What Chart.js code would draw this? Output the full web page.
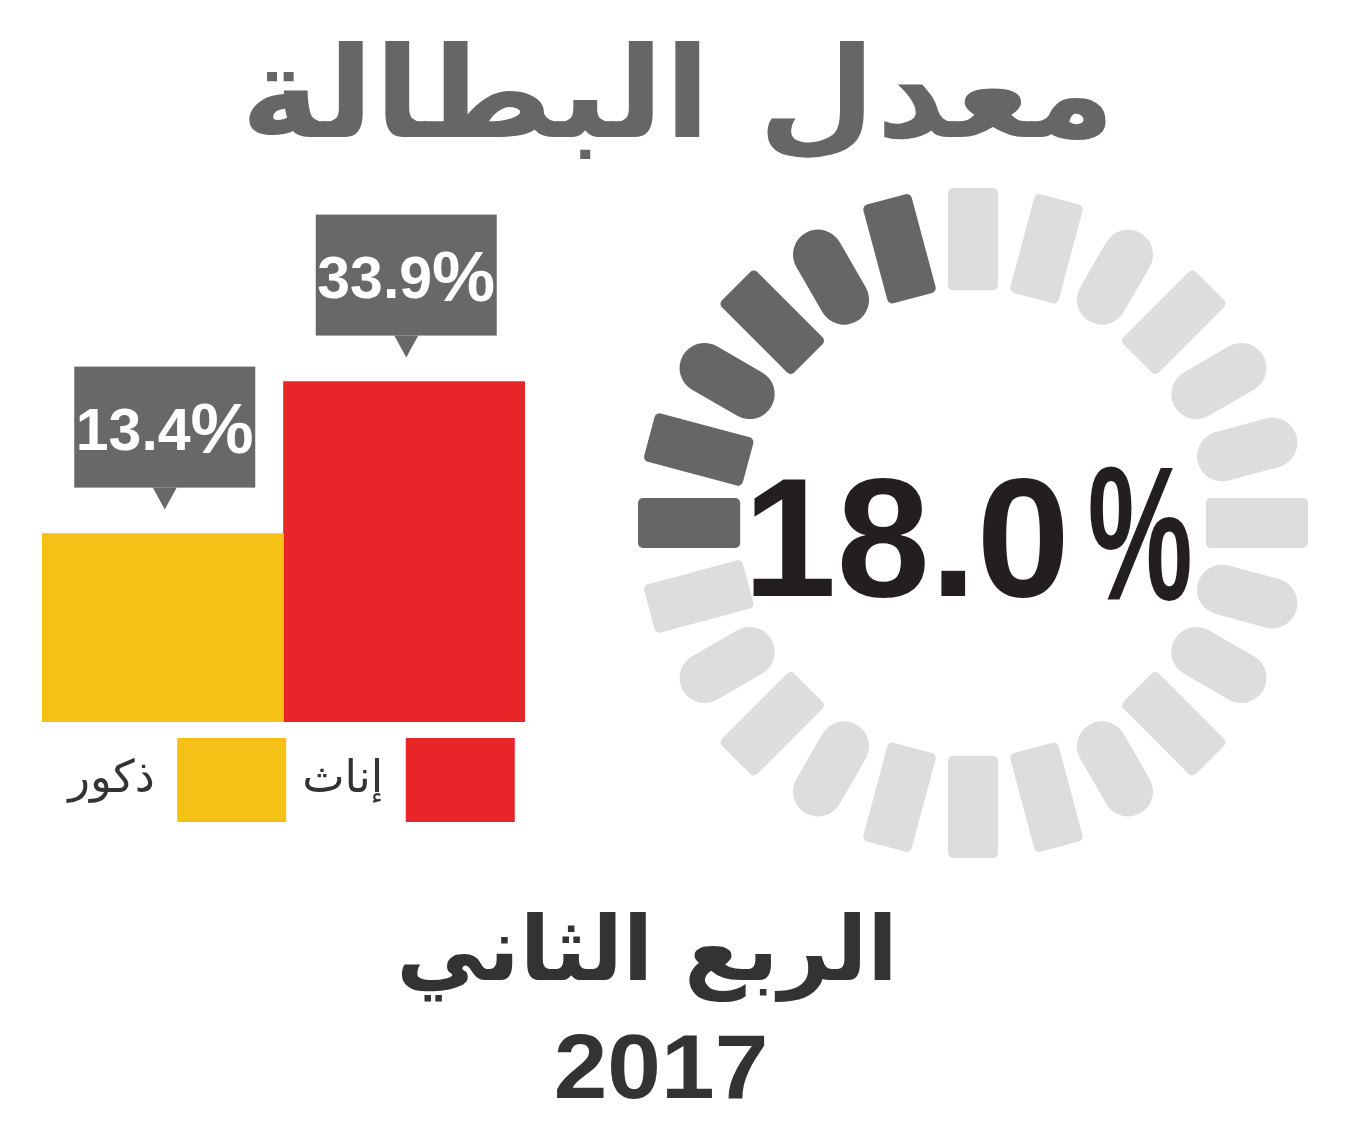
<!DOCTYPE html>
<html lang="ar">
<head>
<meta charset="utf-8">
<title>معدل البطالة</title>
<script src="https://cdn.jsdelivr.net/npm/chart.js@4.4.1/dist/chart.umd.min.js"></script>
<style>
  html, body { margin: 0; padding: 0; background: #fff; }
  body { width: 1356px; height: 1123px; position: relative; overflow: hidden; }
  .txt { position: absolute; left: 0; width: 1356px; text-align: center; line-height: 1; white-space: nowrap; }
  #title { top: 16px; left: 0; font: bold 132px "DejaVu Sans", sans-serif; color: #666; direction: rtl; transform: scale(1.03, 0.96); }
  #quarter { top: 897px; left: -31px; font: bold 89px "DejaVu Sans", sans-serif; color: #333; direction: rtl; }
  #year { top: 1015px; left: -17px; font: bold 91px "Liberation Sans", Arial, sans-serif; color: #333; transform: scaleX(1.06); }
  #bars { position: absolute; left: 0; top: 188px; }
  #ring { position: absolute; left: 638px; top: 188px; }
</style>
</head>
<body>
<div id="title" class="txt">معدل البطالة</div>
<canvas id="bars" width="560" height="644"></canvas>
<canvas id="ring" width="670" height="670"></canvas>
<div id="quarter" class="txt">الربع الثاني</div>
<div id="year" class="txt">2017</div>

<script>
// data
const categories = ['إناث', 'ذكور'];
const rates = [33.9, 13.4];
const totalRate = 18.0;
// ring segments, clockwise from 9 o'clock: 1 = filled
const ringFilled = [1, 1, 1, 1, 1, 1, 0, 0, 0, 0, 0, 0, 0, 0, 0, 0, 0, 0, 0, 0, 0, 0, 0, 0];

// styles
const barColors = ['#e8262a', '#f5c117'];
const ringColors = { on: '#666666', off: '#dddddd' };
const segmentShapes = ['rect', 'rect', 'pill', 'rect', 'pill', 'rect', 'rect', 'rect', 'pill', 'rect', 'pill', 'pill',
                       'rect', 'pill', 'pill', 'rect', 'pill', 'rect', 'rect', 'rect', 'pill', 'rect', 'pill', 'rect'];

function roundedRect(ctx, x, y, w, h, r) {
    ctx.beginPath();
    ctx.moveTo(x + r, y);
    ctx.lineTo(x + w - r, y);
    ctx.arcTo(x + w, y, x + w, y + r, r);
    ctx.lineTo(x + w, y + h - r);
    ctx.arcTo(x + w, y + h, x + w - r, y + h, r);
    ctx.lineTo(x + r, y + h);
    ctx.arcTo(x, y + h, x, y + h - r, r);
    ctx.lineTo(x, y + r);
    ctx.arcTo(x, y, x + r, y, r);
    ctx.closePath();
}

// grey value boxes above the bars
const calloutPlugin = {
    id: 'callouts',
    afterLayout(chart) {
        // legend sits a little right of the bars' centre
        chart.legend.left += 8;
        chart.legend.right += 8;
    },
    afterDatasetsDraw(chart) {
        const ctx = chart.ctx;
        chart.getDatasetMeta(0).data.forEach((bar, i) => {
            const cx = bar.x + 2;
            const bottom = bar.y - 46;
            const tip = bar.y - 24;
            const w = 181, h = 121;
            ctx.save();
            ctx.fillStyle = '#686868';
            ctx.fillRect(cx - w / 2, bottom - h, w, h);
            ctx.beginPath();
            ctx.moveTo(cx - 12, bottom);
            ctx.lineTo(cx + 12, bottom);
            ctx.lineTo(cx, tip);
            ctx.closePath();
            ctx.fill();

            const num = rates[i].toFixed(1);
            ctx.fillStyle = '#fff';
            ctx.textBaseline = 'alphabetic';
            ctx.font = 'bold 59px "Liberation Sans", Arial, sans-serif';
            const nw = ctx.measureText(num).width;
            ctx.font = 'bold 71px "Liberation Sans", Arial, sans-serif';
            const pw = ctx.measureText('%').width;
            const left = cx - (nw + pw) / 2;
            const base = bottom - 38;
            ctx.textAlign = 'left';
            ctx.font = 'bold 59px "Liberation Sans", Arial, sans-serif';
            ctx.fillText(num, left, base);
            ctx.font = 'bold 71px "Liberation Sans", Arial, sans-serif';
            ctx.fillText('%', left + nw, base + 3);
            ctx.restore();
        });
    }
};

new Chart(document.getElementById('bars'), {
    type: 'bar',
    data: {
        labels: categories,
        datasets: [{
            data: rates,
            base: -12,
            backgroundColor: barColors,
            borderWidth: 0,
            categoryPercentage: 1,
            barPercentage: 1
        }]
    },
    options: {
        responsive: false,
        animation: false,
        events: [],
        layout: { padding: { left: 42, right: 35, top: 0, bottom: 0 } },
        scales: {
            x: { display: false, reverse: true },
            y: { display: false, min: -12, max: 60 }
        },
        plugins: {
            tooltip: { enabled: false },
            legend: {
                position: 'bottom',
                rtl: true,
                textDirection: 'rtl',
                labels: {
                    boxWidth: 109,
                    boxHeight: 84,
                    padding: 16,
                    color: '#333',
                    font: { family: '"DejaVu Sans", sans-serif', size: 45 },
                    generateLabels: () => categories.map((c, i) => ({
                        text: c,
                        fillStyle: barColors[i],
                        strokeStyle: barColors[i],
                        fontColor: '#333',
                        lineWidth: 0,
                        hidden: false,
                        index: i
                    }))
                }
            }
        }
    },
    plugins: [calloutPlugin]
});

// draw each doughnut slice as a radial bar, plus the big rate in the middle
const ringPlugin = {
    id: 'ringShapes',
    beforeDatasetDraw(chart) {
        const ctx = chart.ctx;
        chart.getDatasetMeta(0).data.forEach((arc, i) => {
            const p = arc.getProps(['x', 'y', 'startAngle', 'endAngle', 'innerRadius', 'outerRadius']);
            const mid = (p.startAngle + p.endAngle) / 2;
            const w = 50;
            const r = segmentShapes[i] === 'pill' ? w / 2 : 5;
            ctx.save();
            ctx.translate(p.x, p.y);
            ctx.rotate(mid);
            ctx.fillStyle = arc.options.backgroundColor;
            roundedRect(ctx, p.innerRadius, -w / 2, p.outerRadius - p.innerRadius, w, r);
            ctx.fill();
            ctx.restore();
        });
        return false;
    },
    afterDraw(chart) {
        const ctx = chart.ctx;
        const arc = chart.getDatasetMeta(0).data[0];
        const cx = arc.x, cy = arc.y;
        ctx.save();
        ctx.fillStyle = '#231f20';
        ctx.textBaseline = 'alphabetic';

        ctx.save();
        ctx.translate(cx + 97, cy + 73);
        ctx.textAlign = 'right';
        ctx.font = 'bold 168px "Liberation Sans", Arial, sans-serif';
        ctx.fillText(totalRate.toFixed(1), 0, 0);
        ctx.restore();

        ctx.save();
        ctx.translate(cx + 114.5, cy + 77);
        ctx.scale(0.62, 1);
        ctx.textAlign = 'left';
        ctx.font = 'bold 191px "Liberation Sans", Arial, sans-serif';
        ctx.fillText('%', 0, 0);
        ctx.restore();

        ctx.restore();
    }
};

new Chart(document.getElementById('ring'), {
    type: 'doughnut',
    data: {
        labels: ringFilled.map((f, i) => 'segment ' + (i + 1)),
        datasets: [{
            data: ringFilled.map(() => 1),
            backgroundColor: ringFilled.map(f => f ? ringColors.on : ringColors.off),
            borderWidth: 0,
            hoverOffset: 0,
            offset: 0
        }]
    },
    options: {
        responsive: false,
        animation: false,
        events: [],
        cutout: '69.5%',
        rotation: -97.5,
        plugins: {
            legend: { display: false },
            tooltip: { enabled: false }
        }
    },
    plugins: [ringPlugin]
});
</script>
</body>
</html>
